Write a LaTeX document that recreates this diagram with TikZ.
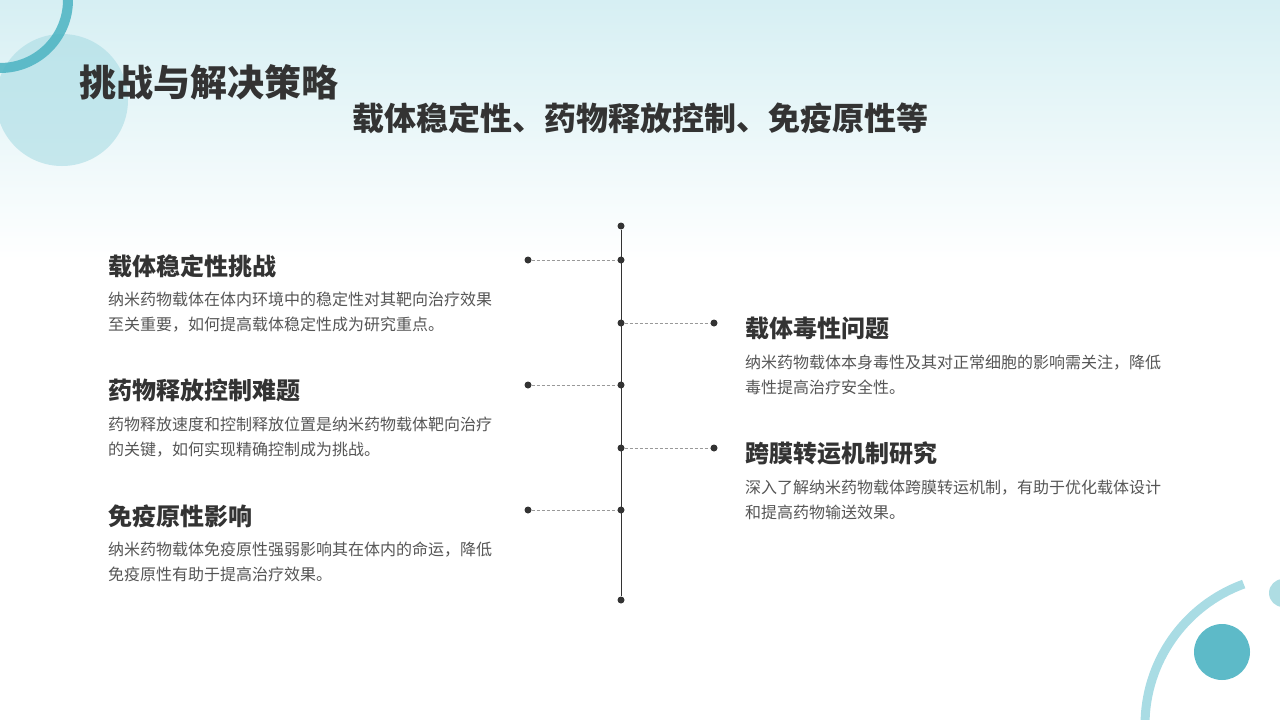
\documentclass[tikz,border=0pt]{standalone}
\usepackage{fontspec}
\setmainfont{Noto Sans CJK SC}
\usetikzlibrary{positioning}
\definecolor{teal1}{HTML}{4BB3C2}
\definecolor{teal2}{HTML}{A9DCE4}
\definecolor{bgtop}{HTML}{D6EFF3}
\definecolor{ink}{HTML}{333333}
\definecolor{body}{HTML}{555555}
\begin{document}
\begin{tikzpicture}[x=1pt,y=-1pt,
  heading/.style={anchor=west,font=\bfseries\fontsize{24}{28}\selectfont,text=ink,inner sep=0pt},
  desc/.style={anchor=north west,align=left,font=\fontsize{16}{25}\selectfont,text=body,inner sep=0pt},
  tick/.style={circle,fill=ink,inner sep=0pt,minimum size=7pt},
  link/.style={densely dashed,draw=gray!80,line width=0.6pt}]
\useasboundingbox (0,0) rectangle (1280,720);
% background
\shade[top color=bgtop,bottom color=white] (0,0) rectangle (1280,260);
\fill[teal2,opacity=0.6] (62,100) circle (66);
\draw[teal1,line width=10pt,opacity=0.85] (68,0) arc[start angle=0,end angle=90,radius=68];
\fill[teal1,opacity=0.45] (1283,593) circle (14);
\draw[teal2,line width=9pt] (1145,725) arc[start angle=180,end angle=250,radius=150];
\fill[teal1,opacity=0.9] (1222,652) circle (28);
% titles
\node[anchor=west,font=\bfseries\fontsize{37}{42}\selectfont,text=ink] (title) at (76,82) {挑战与解决策略};
\node[font=\bfseries\fontsize{32}{36}\selectfont,text=ink] (sub) at (640,118) {载体稳定性、药物释放控制、免疫原性等};
% timeline
\node[tick] (top) at (621,226) {};
\node[tick] (bot) at (621,600) {};
\draw[ink,line width=0.8pt] (top) -- (bot);
\foreach \n/\y in {l1/260,l2/385,l3/510}{
  \node[tick] (\n m) at (621,\y) {};
  \node[tick] (\n e) at (528,\y) {};
  \draw[link] (\n e) -- (\n m);
}
\foreach \n/\y in {r1/323,r2/448}{
  \node[tick] (\n m) at (621,\y) {};
  \node[tick] (\n e) at (714,\y) {};
  \draw[link] (\n m) -- (\n e);
}
% left items
\node[heading] (h1) at (108,266) {载体稳定性挑战};
\node[desc] (d1) at (108,292) {纳米药物载体在体内环境中的稳定性对其靶向治疗效果\\至关重要，如何提高载体稳定性成为研究重点。};
\node[heading] (h2) at (108,390) {药物释放控制难题};
\node[desc] (d2) at (108,417) {药物释放速度和控制释放位置是纳米药物载体靶向治疗\\的关键，如何实现精确控制成为挑战。};
\node[heading] (h3) at (108,516) {免疫原性影响};
\node[desc] (d3) at (108,542) {纳米药物载体免疫原性强弱影响其在体内的命运，降低\\免疫原性有助于提高治疗效果。};
% right items
\node[heading] (h4) at (745,328) {载体毒性问题};
\node[desc] (d4) at (745,355) {纳米药物载体本身毒性及其对正常细胞的影响需关注，降低\\毒性提高治疗安全性。};
\node[heading] (h5) at (745,453) {跨膜转运机制研究};
\node[desc] (d5) at (745,480) {深入了解纳米药物载体跨膜转运机制，有助于优化载体设计\\和提高药物输送效果。};
\end{tikzpicture}
\end{document}
